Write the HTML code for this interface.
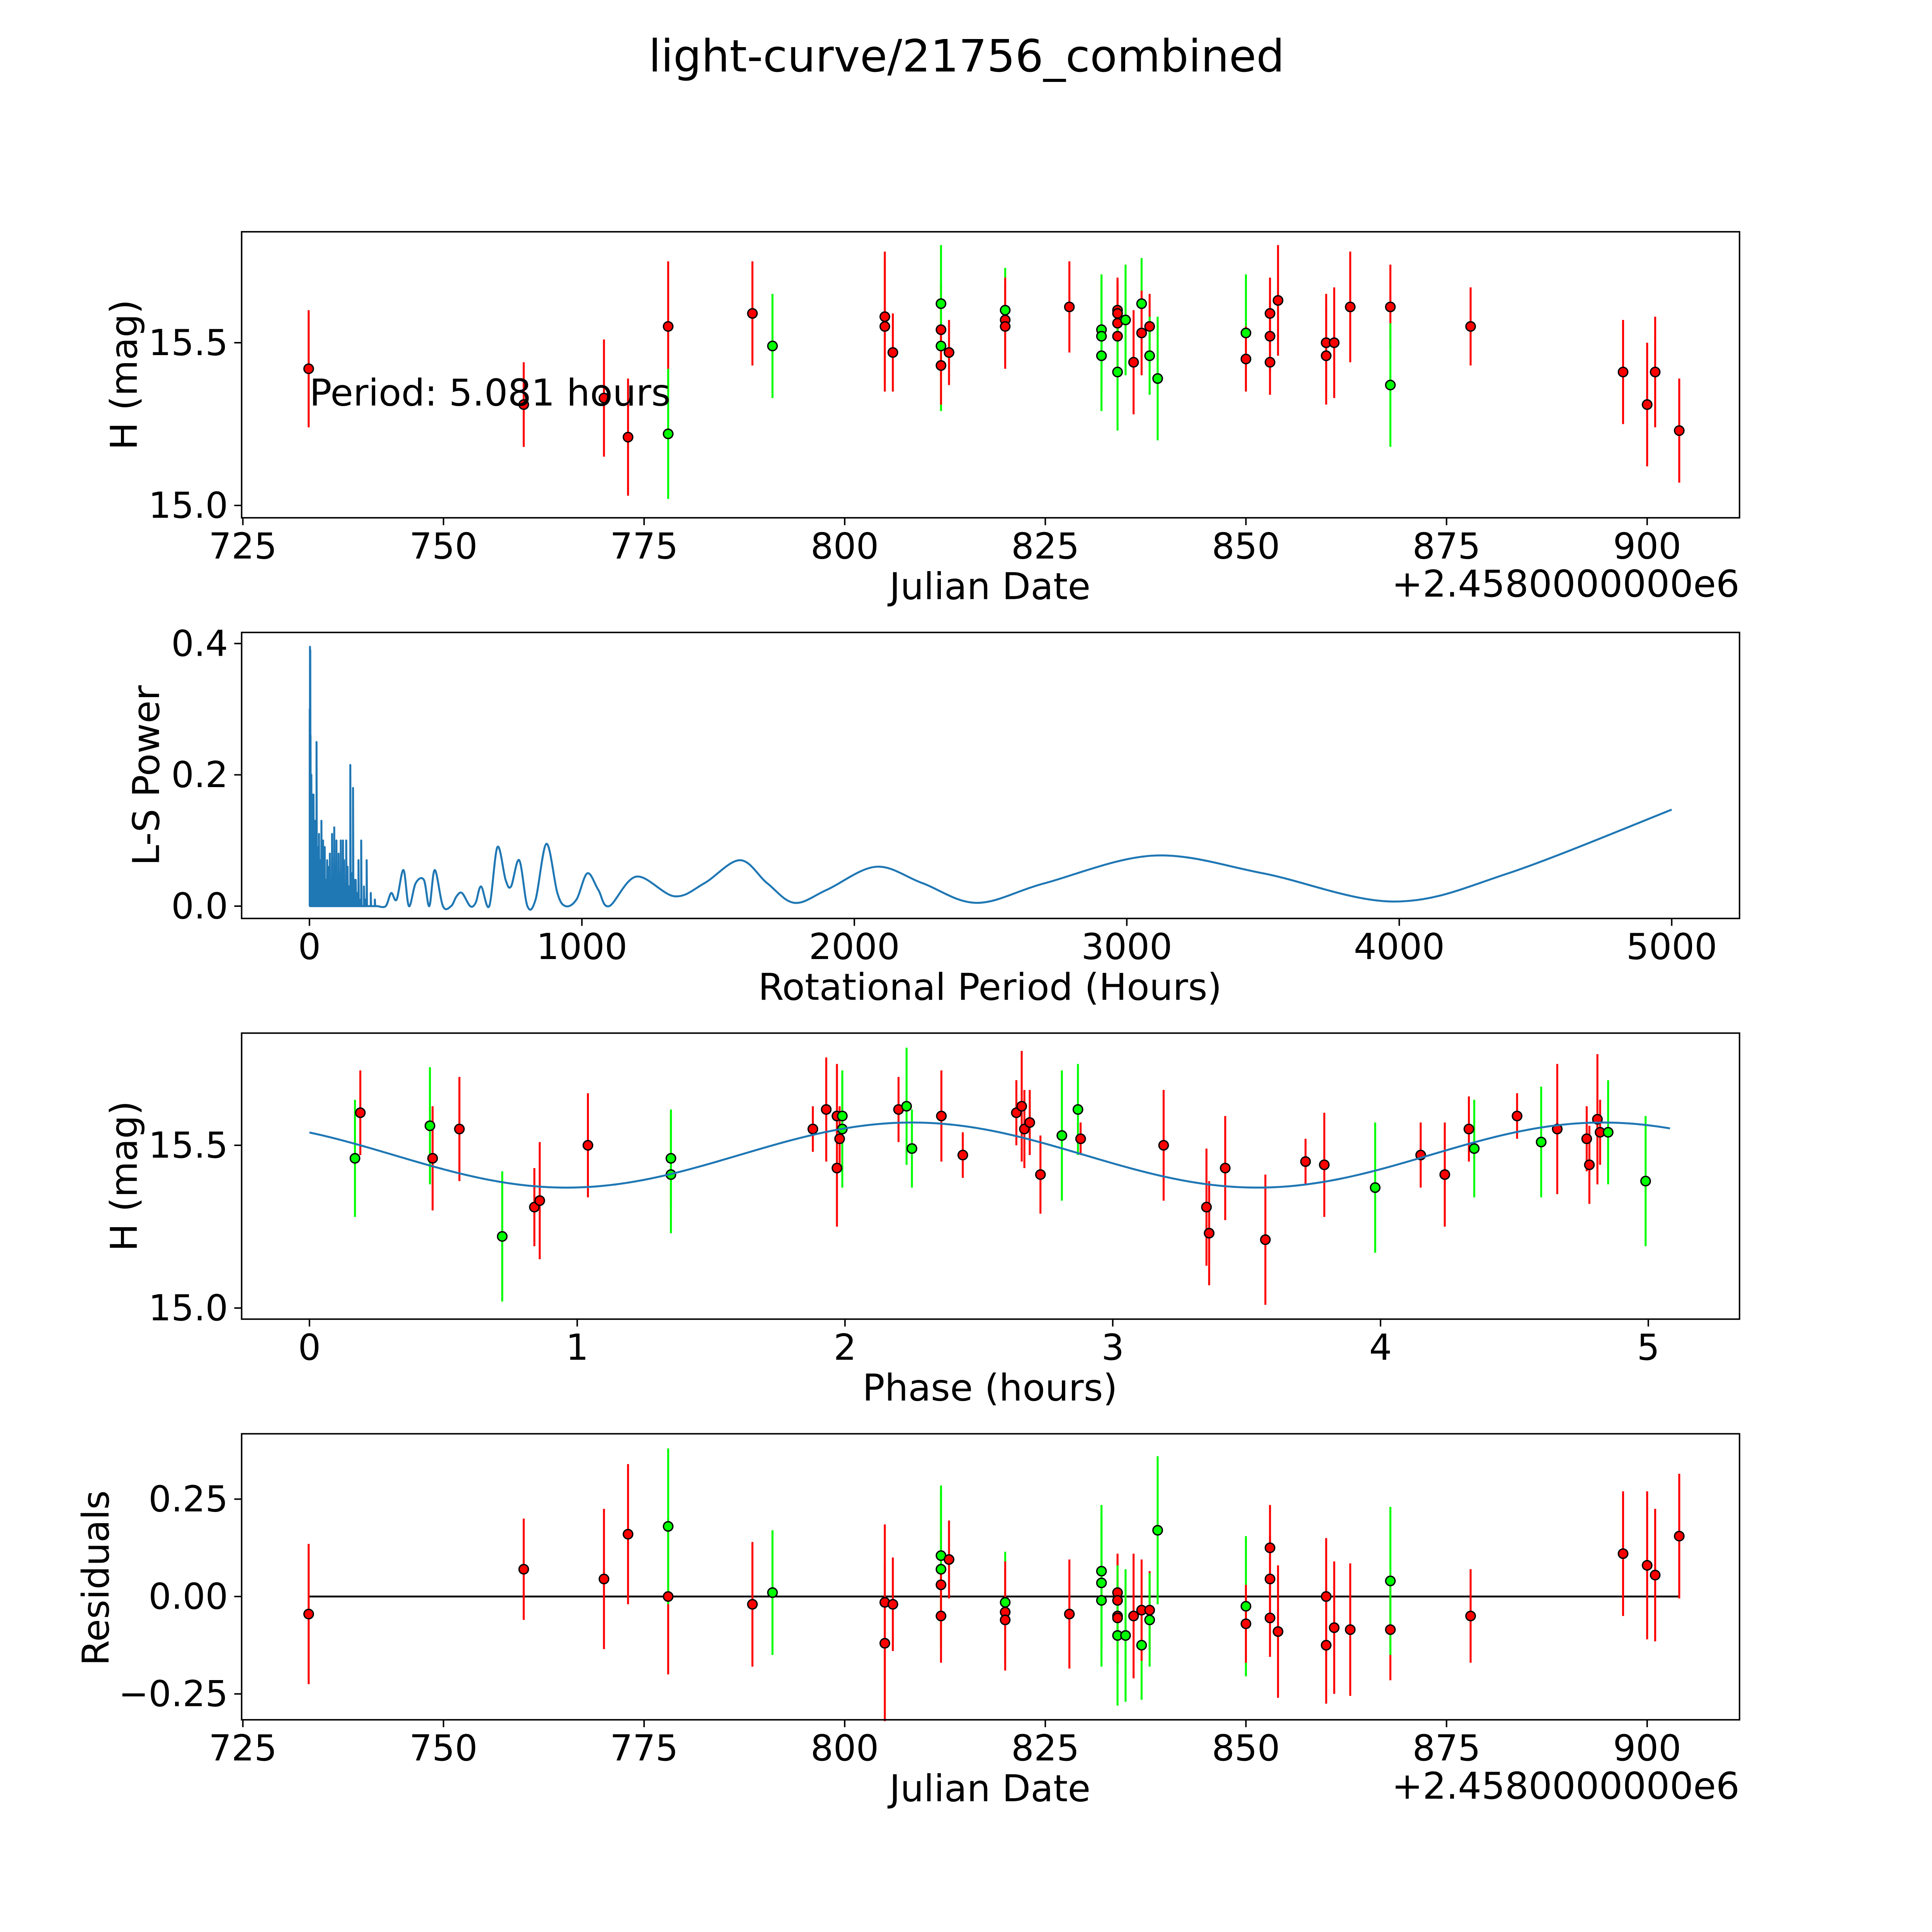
<!DOCTYPE html>
<html><head><meta charset="utf-8"><style>
html,body{margin:0;padding:0;background:#fff;overflow:hidden;width:5400px;height:5400px}
svg{display:block}
text{font-family:"DejaVu Sans","Liberation Sans",sans-serif}
</style></head><body>
<svg id="fig" xmlns="http://www.w3.org/2000/svg" width="5400" height="5400" viewBox="0 0 1692.5 1692.5">
<rect width="1692.5" height="1692.5" fill="#fff"/>
<text x="784" y="58" font-size="36" text-anchor="middle">light-curve/21756_combined</text>
</svg>
<script>
// ---- Panel 1: raw light curve (Julian Date offset, H mag, error, filter) ----
const lcDates = [733.2,760,770,773,778,778,788.5,791,805,805,806,812,812,812,812,813,820,820,820,828,832,832,832,834,834,834,834,834,835,836,837,837,838,838,839,850,850,853,853,853,854,860,860,861,863,868,868,878,897,900,901,904];
const lcMags  = [15.42,15.31,15.33,15.21,15.55,15.22,15.59,15.49,15.58,15.55,15.47,15.62,15.54,15.49,15.43,15.47,15.60,15.57,15.55,15.61,15.54,15.52,15.46,15.60,15.59,15.56,15.52,15.41,15.57,15.44,15.62,15.53,15.55,15.46,15.39,15.53,15.45,15.59,15.52,15.44,15.63,15.50,15.46,15.50,15.61,15.61,15.37,15.55,15.41,15.31,15.41,15.23];
const lcErrs  = [0.18,0.13,0.18,0.18,0.2,0.2,0.16,0.16,0.2,0.2,0.12,0.18,0.14,0.2,0.12,0.1,0.13,0.13,0.13,0.14,0.17,0.17,0.17,0.1,0.1,0.12,0.12,0.18,0.17,0.16,0.14,0.13,0.1,0.12,0.19,0.18,0.1,0.11,0.11,0.1,0.17,0.15,0.15,0.17,0.17,0.13,0.19,0.12,0.16,0.19,0.17,0.16];
const lcColors = ["r","r","r","r","r","g","r","g","r","r","r","g","r","g","r","r","g","r","r","r","g","g","g","r","r","r","r","g","g","r","g","r","r","g","g","g","r","r","r","r","r","r","r","r","r","r","g","r","r","r","r","r"];
// ---- Panel 4: residuals ----
const resValues = [-0.045,0.07,0.045,0.16,0.0,0.18,-0.02,0.01,-0.015,-0.12,-0.02,0.105,0.03,0.07,-0.05,0.095,-0.015,-0.04,-0.06,-0.045,0.065,0.035,-0.01,0.01,-0.01,-0.05,-0.055,-0.1,-0.1,-0.05,-0.125,-0.035,-0.035,-0.06,0.17,-0.025,-0.07,0.125,0.045,-0.055,-0.09,0.0,-0.125,-0.08,-0.085,-0.085,0.04,-0.05,0.11,0.08,0.055,0.155];
// ---- Panel 3: phased light curve ----
const phHours = [0.17,0.19,0.45,0.46,0.56,0.72,0.84,0.86,1.04,1.35,1.35,1.88,1.93,1.97,1.98,1.97,1.99,1.99,2.2,2.23,2.25,2.36,2.44,2.64,2.66,2.67,2.69,2.73,2.81,2.87,2.88,3.19,3.35,3.36,3.42,3.57,3.72,3.79,3.98,4.15,4.24,4.33,4.35,4.51,4.6,4.66,4.77,4.78,4.81,4.82,4.85,4.99];
const phMags = [15.46,15.60,15.56,15.46,15.55,15.22,15.31,15.33,15.50,15.41,15.46,15.55,15.61,15.59,15.52,15.43,15.59,15.55,15.61,15.62,15.49,15.59,15.47,15.60,15.62,15.55,15.57,15.41,15.53,15.61,15.52,15.50,15.31,15.23,15.43,15.21,15.45,15.44,15.37,15.47,15.41,15.55,15.49,15.59,15.51,15.55,15.52,15.44,15.58,15.54,15.54,15.39];
const phErrs = [0.18,0.13,0.18,0.16,0.16,0.2,0.12,0.18,0.16,0.18,0.15,0.07,0.16,0.16,0.1,0.18,0.12,0.18,0.1,0.18,0.12,0.14,0.07,0.1,0.17,0.12,0.1,0.12,0.2,0.14,0.05,0.17,0.18,0.16,0.16,0.2,0.07,0.16,0.2,0.1,0.16,0.1,0.15,0.07,0.17,0.2,0.1,0.12,0.2,0.1,0.16,0.2];
const phColors = ["g","r","g","r","r","g","r","r","r","g","g","r","r","r","r","r","g","g","r","g","g","r","r","r","r","r","r","r","g","g","r","r","r","r","r","r","r","r","g","r","r","r","g","r","g","r","r","r","r","r","g","g"];
const fitParams = [15.47, 0.1, 2.25, 2.58]; // mean, amplitude, phase of max, half-period
const fitRange = [0, 5.081];
// ---- Panel 2: periodogram ----
const lsSpikePeriods = [1,2,3,4,5,7,9,11,13,15,17,20,23,26,29,32,35,38,41,44,47,50,53,56,59,62,65,68,71,75,79,83,87,91,95,99,103,107,111,115,119,123,127,131,135,140,145,150,155,160,165,170,175,180,185,190,195,200,205,210,215,220,225,230,240,250];
const lsSpikePowers = [0.3,0.395,0.39,0.26,0.14,0.2,0.12,0.17,0.14,0.17,0.1,0.13,0.05,0.25,0.09,0.08,0.11,0.07,0.06,0.13,0.05,0.1,0.03,0.09,0.04,0.04,0.07,0.06,0.035,0.08,0.02,0.11,0.03,0.12,0.06,0.1,0.02,0.08,0.05,0.1,0.04,0.1,0.07,0.02,0.1,0.06,0.03,0.215,0.05,0.18,0.04,0.04,0.02,0.07,0.01,0.1,0.0,0.03,0.01,0.07,0.0,0.0,0.02,0.0,0.01,0.0];
const lsPeriods = [250,280,300,320,345,365,390,420,440,460,490,520,540,560,590,610,630,660,690,720,740,770,800,830,870,910,940,980,1020,1060,1100,1200,1340,1450,1580,1680,1780,1900,2080,2250,2450,2700,3100,3500,3980,4400,5000];
const lsPowers  = [0.0,0.0,0.02,0.01,0.055,0.0,0.035,0.04,0.0,0.055,0.0,0.0,0.015,0.02,0.0,0.005,0.03,0.0,0.09,0.04,0.03,0.07,0.0,0.01,0.095,0.02,0.0,0.01,0.05,0.025,0.0,0.045,0.015,0.035,0.07,0.035,0.005,0.025,0.06,0.035,0.005,0.035,0.077,0.05,0.007,0.05,0.147];
const ticksDate = [725,750,775,800,825,850,875,900];
const ticksMag = [15.0,15.5];
const ticksPow = [0.0,0.2,0.4];
const ticksPer = [0,1000,2000,3000,4000,5000];
const ticksPh = [0,1,2,3,4,5];
const ticksRes = [-0.25,0,0.25];

const NS="http://www.w3.org/2000/svg", svg=document.getElementById('fig');
function mk(tag, attrs, parent){const e=document.createElementNS(NS,tag);for(const k in attrs)e.setAttribute(k,attrs[k]);(parent||svg).appendChild(e);return e;}
const COL={r:"#ff0000",g:"#00ff00"};
const L=196,R=1411;
const tops=[188,513,838,1163], H=232;
const xDate=d=>197+(d-725)*6.509;
const yMag1=m=>410-(m-15)*264;
const xPer=p=>251+p*0.221;
const yPow=v=>735-v*532.5;
const xPh=h=>251+h*217.2;
const yMag3=m=>1061-(m-15)*264;
const yRes=v=>1295-v*316;
const FT=29, FL=30;

function frame(i,name){const r=mk('rect',{x:L,y:tops[i],width:R-L,height:H,fill:'none',stroke:'#000','stroke-width':1.2});}
function xticks(vals,fx,i,fmt,name){const y=tops[i]+H;vals.forEach(v=>{const x=fx(v);const l=mk('line',{x1:x,x2:x,y1:y,y2:y+6,stroke:'#000','stroke-width':1.2});const t=mk('text',{x:x,y:y+33,'font-size':FT,'text-anchor':'middle'});t.textContent=fmt(v);});}
function yticks(vals,fy,fmt,name){vals.forEach(v=>{const y=fy(v);const l=mk('line',{x1:L-6,x2:L,y1:y,y2:y,stroke:'#000','stroke-width':1.2});const t=mk('text',{x:L-11,y:y+10,'font-size':FT,'text-anchor':'end'});t.textContent=fmt(v);});}
function label(x,y,txt,name,rot){const t=mk('text',{x:x,y:y,'font-size':FL,'text-anchor':'middle'});if(rot)t.setAttribute('transform','rotate(-90 '+x+' '+y+')');t.textContent=txt;}
function offset(i){const t=mk('text',{x:R,y:tops[i]+H+64,'font-size':FL,'text-anchor':'end'});t.textContent='+2.4580000000e6';}
function errpts(xs,ys,es,cs,fx,fy,name){
  const g=mk('g',{});
  xs.forEach((x,i)=>{const l=mk('line',{x1:fx(x),x2:fx(x),y1:fy(ys[i]-es[i]),y2:fy(ys[i]+es[i]),stroke:COL[cs[i]],'stroke-width':1.6},g);});
  xs.forEach((x,i)=>{const c=mk('circle',{cx:fx(x),cy:fy(ys[i]),r:3.8,fill:COL[cs[i]],stroke:'#000','stroke-width':1.1},g);});
}
const f1=v=>v.toFixed(1);
// Panel 1
errpts(lcDates,lcMags,lcErrs,lcColors,xDate,yMag1,'light-curve-points');
frame(0,'light-curve-axes');xticks(ticksDate,xDate,0,v=>String(v),'x-axis');yticks(ticksMag,yMag1,f1,'y-axis');
label(803,486,'Julian Date','x-axis-title');label(111,304,'H (mag)','y-axis-title',true);offset(0);
{const t=mk('text',{x:251,y:329,'font-size':FL});t.textContent='Period: 5.081 hours';}
// Panel 2
{let d='';lsSpikePeriods.forEach((p,i)=>{const x=xPer(p);d+=(i?'L':'M')+x.toFixed(2)+','+yPow(0)+'L'+x.toFixed(2)+','+yPow(lsSpikePowers[i]).toFixed(2)+'L'+(x+0.3).toFixed(2)+','+yPow(0);});
 const p=mk('path',{d:d,fill:'none',stroke:'#1f77b4','stroke-width':1.6,'stroke-linejoin':'round'});
 const pts=lsPeriods.map((q,i)=>[xPer(q),yPow(lsPowers[i])]);let s='M'+pts[0][0]+','+pts[0][1];
 for(let i=0;i<pts.length-1;i++){const p0=pts[Math.max(0,i-1)],p1=pts[i],p2=pts[i+1],p3=pts[Math.min(pts.length-1,i+2)];
  s+='C'+(p1[0]+(p2[0]-p0[0])/6).toFixed(2)+','+(p1[1]+(p2[1]-p0[1])/6).toFixed(2)+' '+(p2[0]-(p3[0]-p1[0])/6).toFixed(2)+','+(p2[1]-(p3[1]-p1[1])/6).toFixed(2)+' '+p2[0].toFixed(2)+','+p2[1].toFixed(2);}
 const q=mk('path',{d:s,fill:'none',stroke:'#1f77b4','stroke-width':1.6});}
frame(1,'periodogram-axes');xticks(ticksPer,xPer,1,v=>String(v),'x-axis');yticks(ticksPow,yPow,f1,'y-axis');
label(803,811,'Rotational Period (Hours)','x-axis-title');label(129,629,'L-S Power','y-axis-title',true);
// Panel 3
errpts(phHours,phMags,phErrs,phColors,xPh,yMag3,'phased-points');
{let s='';for(let k=0;k<=200;k++){const h=fitRange[0]+(fitRange[1]-fitRange[0])*k/200;const m=fitParams[0]+fitParams[1]*Math.cos(2*Math.PI*(h-fitParams[2])/fitParams[3]);s+=(k?'L':'M')+xPh(h).toFixed(2)+','+yMag3(m).toFixed(2);}
 const p=mk('path',{d:s,fill:'none',stroke:'#1f77b4','stroke-width':1.6});}
frame(2,'phase-axes');xticks(ticksPh,xPh,2,v=>String(v),'x-axis');yticks(ticksMag,yMag3,f1,'y-axis');
label(803,1136,'Phase (hours)','x-axis-title');label(111,954,'H (mag)','y-axis-title',true);
// Panel 4
{const l=mk('line',{x1:xDate(lcDates[0]),x2:xDate(lcDates[lcDates.length-1]),y1:yRes(0),y2:yRes(0),stroke:'#000','stroke-width':1.5});}
errpts(lcDates,resValues,lcErrs,lcColors,xDate,yRes,'residual-points');
frame(3,'residuals-axes');xticks(ticksDate,xDate,3,v=>String(v),'x-axis');yticks(ticksRes,yRes,v=>(v<0?'\u2212':'')+Math.abs(v).toFixed(2),'y-axis');
label(803,1461,'Julian Date','x-axis-title');label(88,1280,'Residuals','y-axis-title',true);offset(3);
</script>
</body></html>
